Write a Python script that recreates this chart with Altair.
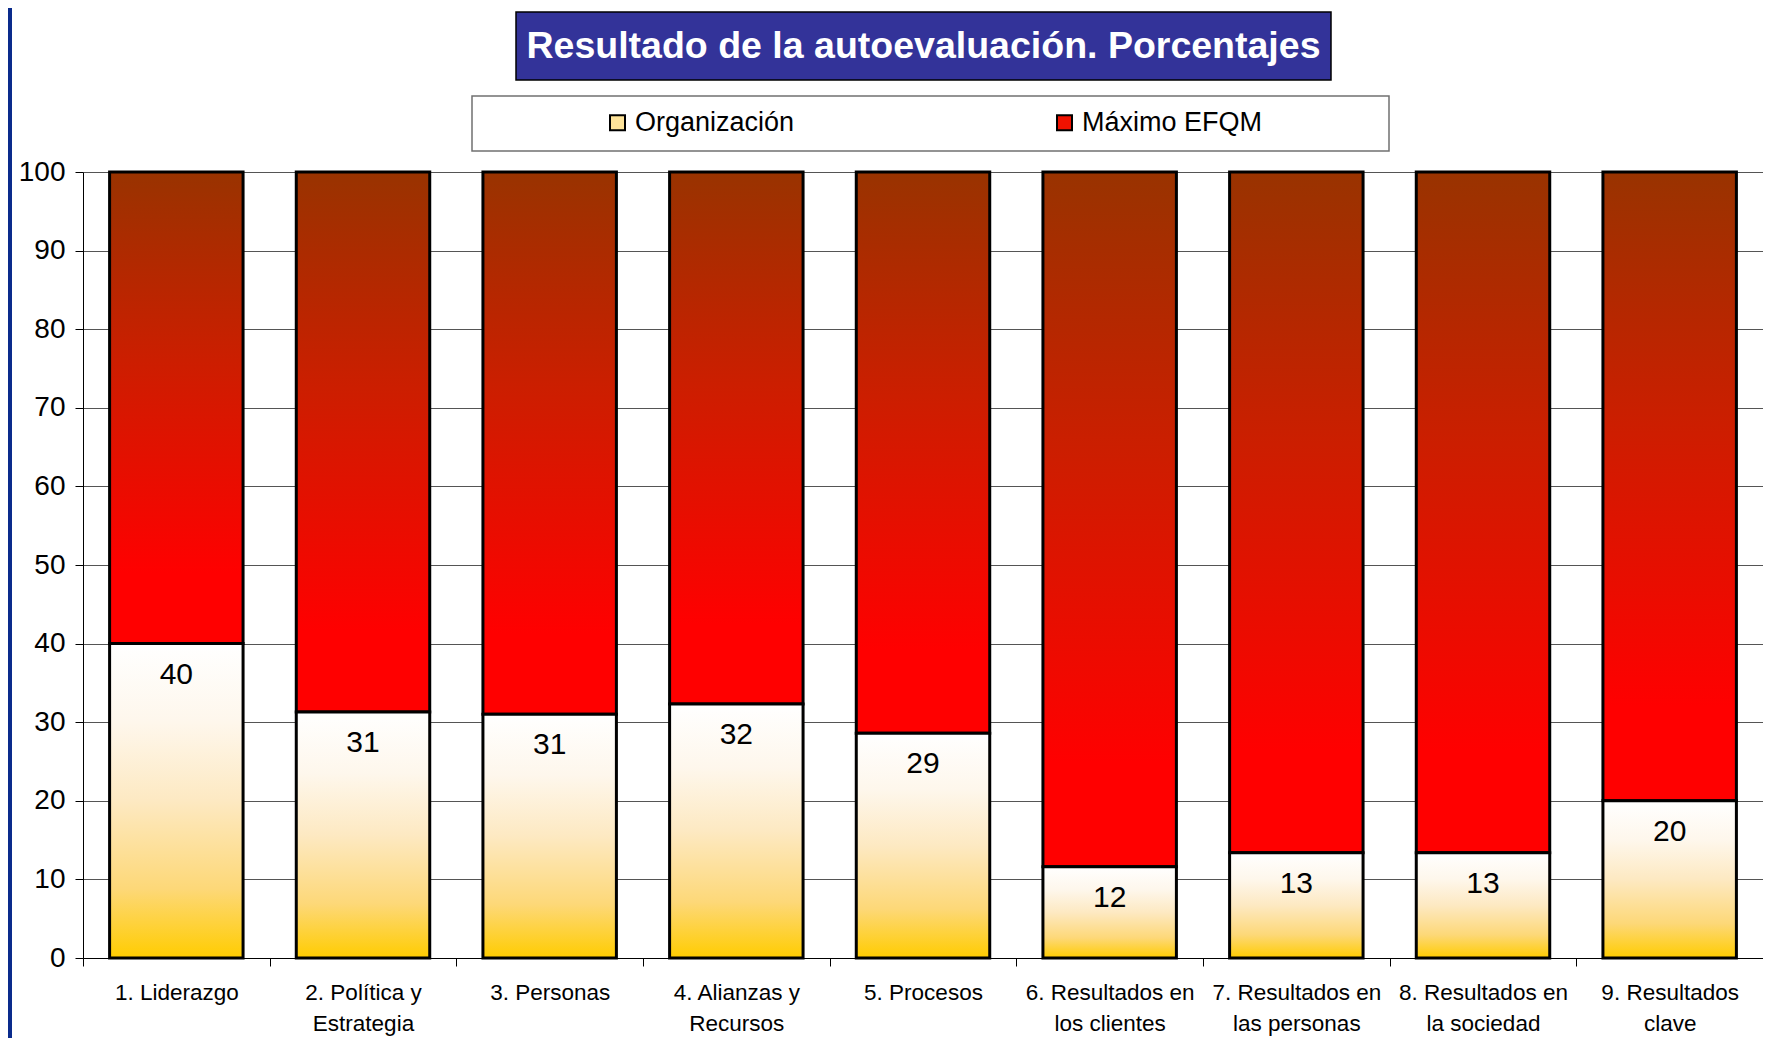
import altair as alt
import pandas as pd

# ---- data ----
categories = [
    "1. Liderazgo",
    "2. Política y\nEstrategia",
    "3. Personas",
    "4. Alianzas y\nRecursos",
    "5. Procesos",
    "6. Resultados en\nlos clientes",
    "7. Resultados en\nlas personas",
    "8. Resultados en\nla sociedad",
    "9. Resultados\nclave",
]
organizacion = [40.0, 31.3, 31.0, 32.3, 28.6, 11.6, 13.4, 13.4, 20.0]
maximo_efqm = [100, 100, 100, 100, 100, 100, 100, 100, 100]
series = ["Organización", "Máximo EFQM"]
series_colors = ["#FFE49A", "#F01200"]
y_ticks = [0, 10, 20, 30, 40, 50, 60, 70, 80, 90, 100]
title_text = "Resultado de la autoevaluación. Porcentajes"

df = pd.DataFrame({"categoria": categories, "organizacion": organizacion, "maximo": maximo_efqm})

FONT = "Liberation Sans"
W, H = 1680, 786

org_grad = alt.Gradient(
    gradient="linear", x1=0, y1=0, x2=0, y2=1,
    stops=[
        alt.GradientStop(color="#FFFFFF", offset=0),
        alt.GradientStop(color="#FEF7EC", offset=0.25),
        alt.GradientStop(color="#FDE9C2", offset=0.5),
        alt.GradientStop(color="#FDD878", offset=0.78),
        alt.GradientStop(color="#FFCC00", offset=1),
    ],
)
red_grad = alt.Gradient(
    gradient="linear", x1=0, y1=0, x2=0, y2=1,
    stops=[
        alt.GradientStop(color="#993300", offset=0),
        alt.GradientStop(color="#CC1E00", offset=0.4),
        alt.GradientStop(color="#FF0000", offset=0.85),
        alt.GradientStop(color="#FF0000", offset=1),
    ],
)

x_enc = alt.X(
    "categoria:N",
    sort=categories,
    scale=alt.Scale(paddingInner=0, paddingOuter=0),
    axis=alt.Axis(
        title=None, labelAngle=0, labelExpr="split(datum.label, '\\n')",
        labelFont=FONT, labelFontSize=22.5, labelLineHeight=31, labelColor="black",
        tickBand="extent", tickSize=8, tickColor="black", domainColor="black",
        labelPadding=15, grid=False,
    ),
)
y_scale = alt.Scale(domain=[0, 100], nice=False)
y_axis = alt.Axis(
    values=y_ticks, title=None, labelFont=FONT, labelFontSize=28, labelColor="black",
    tickSize=8, tickColor="black", domainColor="black", labelPadding=10,
    grid=True, gridColor="#555555", gridWidth=1,
)

base = alt.Chart(df)

org_bars = base.mark_bar(fill=org_grad, stroke="black", strokeWidth=3,
                         width=alt.RelativeBandSize(0.715)).encode(
    x=x_enc,
    y=alt.Y("organizacion:Q", scale=y_scale, axis=y_axis),
)
red_bars = base.mark_bar(fill=red_grad, stroke="black", strokeWidth=3,
                         width=alt.RelativeBandSize(0.715)).encode(
    x=x_enc,
    y=alt.Y("organizacion:Q", scale=y_scale, axis=y_axis),
    y2="maximo:Q",
)
labels = base.mark_text(font=FONT, fontSize=30, color="black", baseline="middle", dy=31).encode(
    x=x_enc,
    y=alt.Y("organizacion:Q", scale=y_scale, axis=y_axis),
    text=alt.Text("organizacion:Q", format=".0f"),
)

one = alt.Data(values=[{}])
blue_strip = alt.Chart(one).mark_rect(fill="#0a2b8c").encode(
    x=alt.value(-75), x2=alt.value(-71), y=alt.value(-164), y2=alt.value(866)
)
title_box = alt.Chart(one).mark_rect(fill="#333399", stroke="black", strokeWidth=1.5).encode(
    x=alt.value(433), x2=alt.value(1248), y=alt.value(-160), y2=alt.value(-92)
)
title_txt = alt.Chart(one).mark_text(
    text=title_text, font=FONT, fontSize=37.5, fontWeight="bold", color="white",
    align="center", baseline="middle",
).encode(x=alt.value(840.5), y=alt.value(-125))
legend_frame = alt.Chart(one).mark_rect(fill="white", stroke="#707070", strokeWidth=1.5).encode(
    x=alt.value(389), x2=alt.value(1306), y=alt.value(-76), y2=alt.value(-21)
)
legend_layer = alt.Chart(alt.Data(values=[{"serie": s} for s in series])).transform_filter(
    "false"
).mark_square(size=225, stroke="black", strokeWidth=2, opacity=1).encode(
    color=alt.Color(
        "serie:N",
        scale=alt.Scale(domain=series, range=series_colors),
        legend=alt.Legend(
            orient="none", legendX=521, legendY=-63, direction="horizontal", title=None,
            labelFont=FONT, labelFontSize=27, labelColor="black", symbolType="square",
            symbolSize=225, symbolStrokeColor="black", symbolStrokeWidth=2,
            columnPadding=256, labelOffset=4, padding=0, labelLimit=400,
        ),
    )
)

chart = alt.layer(
    blue_strip, title_box, title_txt, legend_frame, red_bars, org_bars, labels, legend_layer
).properties(
    width=W, height=H,
    autosize=alt.AutoSizeParams(type="none"),
    padding={"left": 75, "top": 164, "right": 0, "bottom": 80},
    background="white",
).configure_view(strokeWidth=0)

chart.save("out.html", embed_options={"renderer": "svg", "actions": False})
